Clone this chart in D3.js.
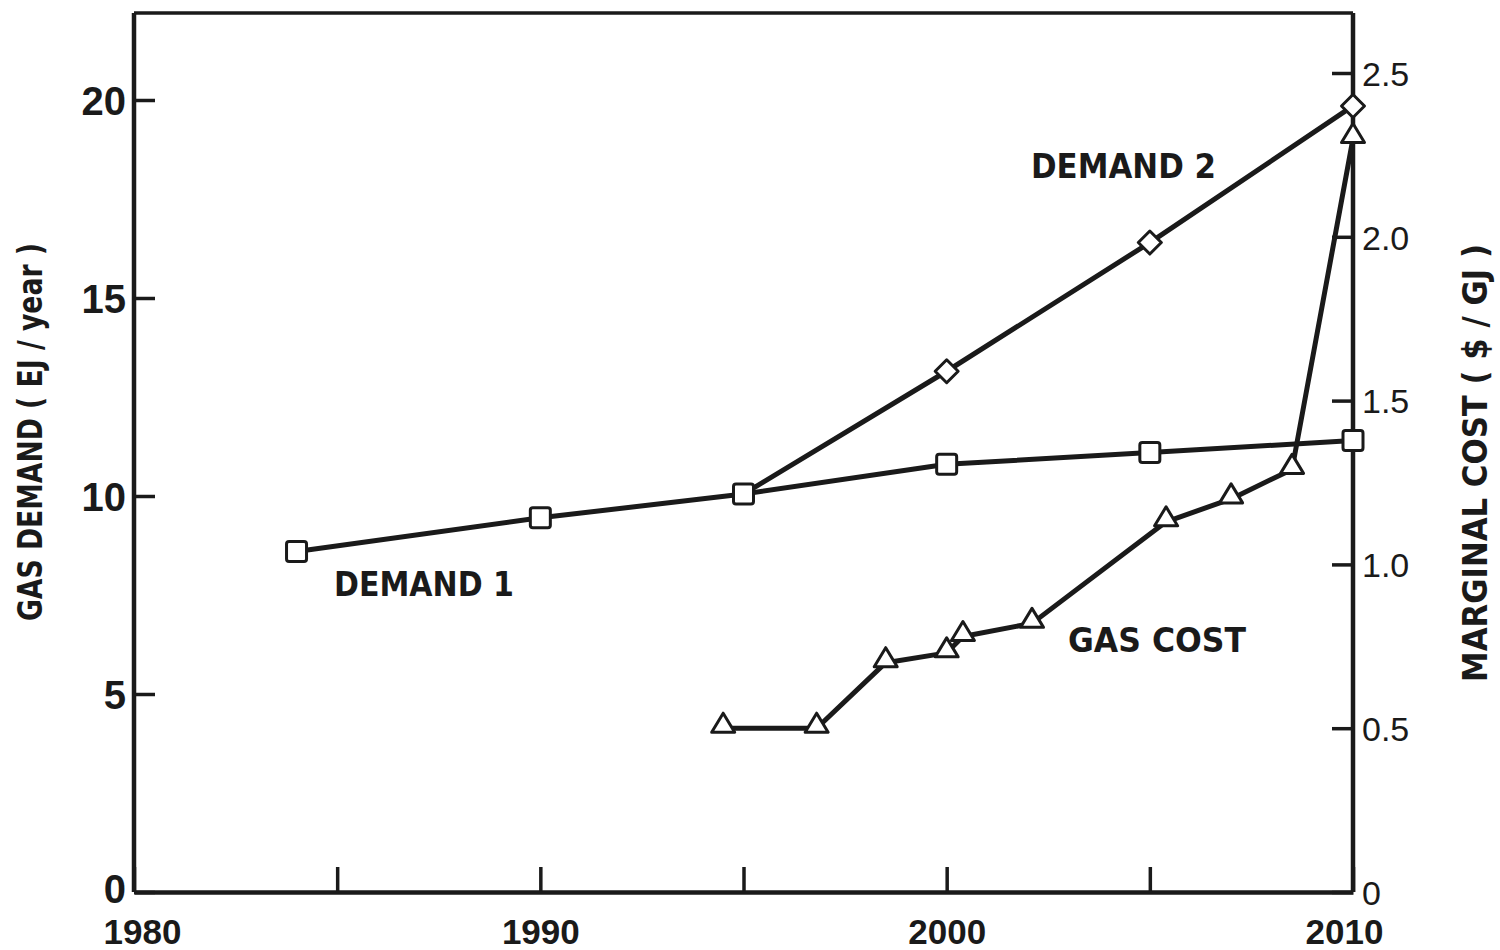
<!DOCTYPE html>
<html>
<head>
<meta charset="utf-8">
<script src="https://cdn.jsdelivr.net/npm/d3@7"></script>
<style>
  html, body { margin: 0; padding: 0; background: #fff; }
  svg text { font-family: "DejaVu Sans", "Liberation Sans", sans-serif; font-weight: bold; fill: #1a1a1a; }
  svg .tick text { font-family: "Liberation Sans", "Arial", sans-serif; }
</style>
</head>
<body>
<svg id="chart" width="1500" height="950"></svg>
<script>
// Gas demand scenarios (EJ/year) and marginal gas cost ($/GJ)
const demand1Years = [1984, 1990, 1995, 2000, 2005, 2010];
const demand1Values = [8.6, 9.45, 10.05, 10.8, 11.1, 11.4];

const demand2Years = [1995, 2000, 2005, 2010];
const demand2Values = [10.05, 13.15, 16.4, 19.85];

const costYears = [1994.5, 1996.8, 1998.5, 2000.0, 2000.4, 2002.1, 2005.4, 2007.0, 2008.5, 2010];
const costValues = [0.50, 0.50, 0.70, 0.73, 0.78, 0.82, 1.13, 1.20, 1.29, 2.30];

const xTicks = [1980, 1985, 1990, 1995, 2000, 2005, 2010];
const xTickLabels = ["1980", "", "1990", "", "2000", "", "2010"];
const leftTicks = [0, 5, 10, 15, 20];
const rightTicks = [0, 0.5, 1.0, 1.5, 2.0, 2.5];
const rightTickLabels = ["0", "0.5", "1.0", "1.5", "2.0", "2.5"];

const ink = "#1a1a1a";
const svg = d3.select("#chart");

const x = d3.scaleLinear().domain([1980, 2010]).range([134, 1353]);
const yL = d3.scaleLinear().domain([0, 20]).range([892, 100]);
const yR = d3.scaleLinear().domain([0, 2.5]).range([892, 73]);

// Frame top edge
svg.append("line")
  .attr("x1", x(1980)).attr("x2", x(2010))
  .attr("y1", 13).attr("y2", 13)
  .attr("stroke", ink).attr("stroke-width", 3.5);

// Left axis (ticks point inward)
const gL = svg.append("g").attr("transform", `translate(${x(1980)},0)`)
  .call(d3.axisLeft(yL).tickValues(leftTicks).tickSizeInner(-21).tickSizeOuter(0).tickPadding(8));
gL.select(".domain").attr("d", `M0,892V13`);
gL.selectAll("text").style("font-size", "40px").attr("dy", "0.36em");
gL.selectAll(".tick").filter(d => d === 0).select("text").attr("dy", "0.27em");

// Right axis (ticks point inward)
const gR = svg.append("g").attr("transform", `translate(${x(2010)},0)`)
  .call(d3.axisRight(yR).tickValues(rightTicks)
    .tickFormat((d, i) => rightTickLabels[i]).tickSizeInner(-21).tickSizeOuter(0).tickPadding(9));
gR.select(".domain").attr("d", `M0,892V13`);
gR.selectAll("text").style("font-size", "34px").style("font-weight", "normal").attr("dy", "0.36em");

// Bottom axis (ticks point upward); end labels sit slightly inside the frame
const gB = svg.append("g").attr("transform", `translate(0,892)`)
  .call(d3.axisBottom(x).tickValues(xTicks)
    .tickFormat((d, i) => xTickLabels[i]).tickSizeInner(-25).tickSizeOuter(0).tickPadding(0));
gB.selectAll("text").style("font-size", "35px").attr("y", 52).attr("dy", 0);
gB.selectAll(".tick").filter(d => d === 1980).select("text").attr("x", 8);
gB.selectAll(".tick").filter(d => d === 2010).select("text").attr("x", -9);

[gL, gR, gB].forEach(g => {
  g.select(".domain").attr("stroke", ink).attr("stroke-width", 4.5).attr("fill", "none");
  g.selectAll(".tick line").attr("stroke", ink).attr("stroke-width", 3.5);
  g.selectAll(".tick text").attr("fill", ink);
});

// Series lines
const lineStyle = sel => sel.attr("fill", "none").attr("stroke", ink)
  .attr("stroke-width", 5).attr("stroke-linejoin", "round").attr("stroke-linecap", "round");

const d1 = demand1Years.map((yr, i) => [x(yr), yL(demand1Values[i])]);
const d2 = demand2Years.map((yr, i) => [x(yr), yL(demand2Values[i])]);
const gc = costYears.map((yr, i) => [x(yr), yR(costValues[i])]);

svg.append("path").attr("d", d3.line()(d1)).call(lineStyle);
svg.append("path").attr("d", d3.line()(d2)).call(lineStyle);
svg.append("path").attr("d", d3.line()(gc)).call(lineStyle);

// Markers
const markerStyle = sel => sel.attr("fill", "#fff").attr("stroke", ink)
  .attr("stroke-width", 3).attr("stroke-linejoin", "round");

svg.append("g").selectAll("path").data(gc).join("path")
  .attr("d", d => `M${d[0]},${d[1] - 15}L${d[0] + 11.5},${d[1] + 4}L${d[0] - 11.5},${d[1] + 4}Z`)
  .call(markerStyle);

svg.append("g").selectAll("path").data(d2.slice(1)).join("path")
  .attr("d", d => `M${d[0]},${d[1] - 11.5}L${d[0] + 11.5},${d[1]}L${d[0]},${d[1] + 11.5}L${d[0] - 11.5},${d[1]}Z`)
  .call(markerStyle);

svg.append("g").selectAll("rect").data(d1).join("rect")
  .attr("x", d => d[0] - 10).attr("y", d => d[1] - 10)
  .attr("width", 20).attr("height", 20).attr("rx", 2.5)
  .call(markerStyle);

// Series labels
const label = (txt, px, py, len) => svg.append("text")
  .attr("x", px).attr("y", py).attr("textLength", len).attr("lengthAdjust", "spacingAndGlyphs")
  .style("font-size", "33px").text(txt);
label("DEMAND 2", 1031, 178, 185);
label("DEMAND 1", 334, 596, 180);
label("GAS COST", 1068, 652, 178);

// Axis titles
svg.append("text")
  .attr("transform", `translate(42,432) rotate(-90)`)
  .attr("text-anchor", "middle").attr("textLength", 378).attr("lengthAdjust", "spacingAndGlyphs")
  .style("font-size", "34px").text("GAS DEMAND ( EJ / year )");

svg.append("text")
  .attr("transform", `translate(1487,463) rotate(-90)`)
  .attr("text-anchor", "middle").attr("textLength", 438).attr("lengthAdjust", "spacingAndGlyphs")
  .style("font-size", "33px").text("MARGINAL  COST ( $ / GJ )");
</script>
</body>
</html>
